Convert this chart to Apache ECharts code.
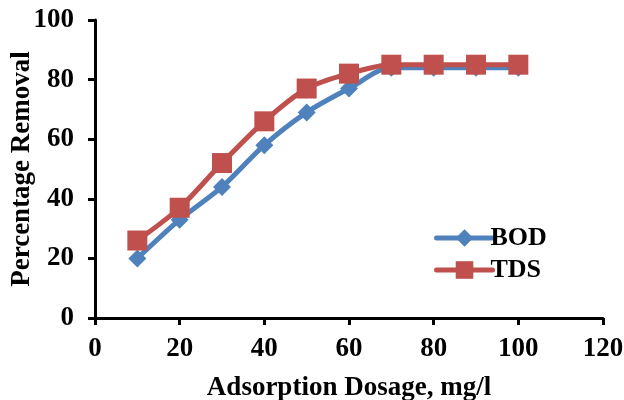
<!DOCTYPE html>
<html>
<head>
<meta charset="utf-8">
<script src="https://cdn.jsdelivr.net/npm/echarts@6/dist/echarts.min.js"></script>
<style>
  html, body { margin: 0; padding: 0; background: #fff; }
  #chart { width: 624px; height: 400px; }
</style>
</head>
<body>
<div id="chart"></div>
<script>
// Adsorbent dosage (mg/l) and removal efficiencies (%)
const dosage = [10, 20, 30, 40, 50, 60, 70, 80, 90, 100];
const bodRemoval = [20, 33, 44, 58, 69, 77, 84, 84, 84, 84];
const tdsRemoval = [26, 37, 52, 66, 77, 82, 85, 85, 85, 85];

const font = 'Liberation Serif';
const toPairs = (xs, ys) => xs.map((x, i) => [x, ys[i]]);
const boldText = size => ({ fontFamily: font, fontWeight: 'bold', fontSize: size, color: '#000' });

const chart = echarts.init(document.getElementById('chart'));
chart.setOption({
  animation: false,
  backgroundColor: '#ffffff',
  grid: { left: 95, right: 21, top: 20, bottom: 82, containLabel: false, outerBoundsMode: 'none' },
  legend: {
    left: 429, top: 220,
    orient: 'vertical',
    itemWidth: 56, itemHeight: 22, itemGap: 6,
    lineStyle: { width: 5, cap: 'round' },
    textStyle: Object.assign(boldText(26), { padding: [0, 0, 0, -7] }),
    data: ['BOD', 'TDS']
  },
  xAxis: {
    type: 'value', min: 0, max: 120, interval: 20,
    name: 'Adsorption Dosage, mg/l', nameLocation: 'middle', nameGap: 57,
    nameMoveOverlap: false,
    nameTextStyle: boldText(27),
    axisLine: { lineStyle: { color: '#000', width: 3 } },
    axisTick: { show: true, inside: false, length: 7, lineStyle: { color: '#000', width: 3 } },
    axisLabel: Object.assign(boldText(27), { margin: 18 }),
    splitLine: { show: false }
  },
  yAxis: {
    type: 'value', min: 0, max: 100, interval: 20,
    name: 'Percentage Removal', nameLocation: 'middle', nameGap: 59,
    nameMoveOverlap: false,
    nameTextStyle: boldText(27),
    axisLine: { show: true, lineStyle: { color: '#000', width: 3 } },
    axisTick: { show: true, inside: false, length: 7, lineStyle: { color: '#000', width: 3 } },
    axisLabel: Object.assign(boldText(27), { margin: 21 }),
    splitLine: { show: false }
  },
  series: [
    {
      name: 'BOD', type: 'line', smooth: 0.3,
      data: toPairs(dosage, bodRemoval),
      symbol: 'diamond', symbolSize: 18,
      lineStyle: { color: '#4F81BD', width: 5 },
      itemStyle: { color: '#4F81BD' }
    },
    {
      name: 'TDS', type: 'line', smooth: 0.3,
      data: toPairs(dosage, tdsRemoval),
      symbol: 'rect', symbolSize: 20,
      lineStyle: { color: '#C0504D', width: 5 },
      itemStyle: { color: '#C0504D' }
    }
  ]
});
</script>
</body>
</html>
